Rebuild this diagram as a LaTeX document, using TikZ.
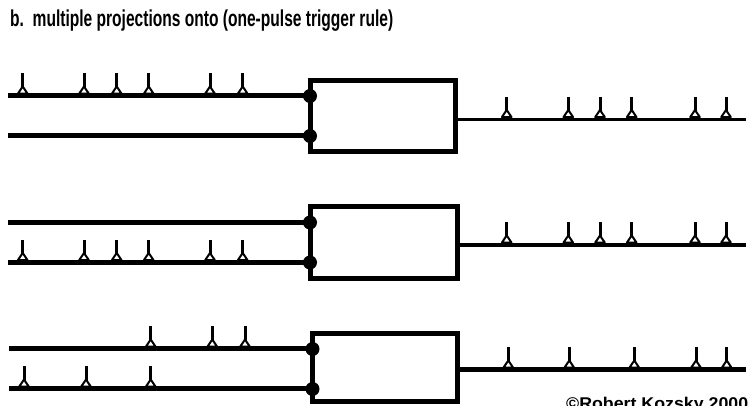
\documentclass[tikz,border=0pt]{standalone}
\usepackage{fontspec}
\setmainfont{Liberation Sans}
\begin{document}
\begin{tikzpicture}[x=1pt,y=-1pt,
  wire/.style={line width=5pt},
  outwire/.style={line width=3.5pt},
  gate/.style={draw,line width=5pt,inner sep=0pt,outer sep=0pt,anchor=north west},
  joint/.style={circle,fill,inner sep=0pt,minimum size=14pt},
  spike/.pic={
    \draw[line width=3pt] (0,-22.5) -- (0,-8);
    \draw[line width=2pt,fill=white,line join=round] (0,-9.5) -- (-4.8,-2.4) -- (4.8,-2.4) -- cycle;
  }]
\useasboundingbox (0,0) rectangle (748,406);
\clip (0,0) rectangle (748,406);

% heading
\node[anchor=base west,inner sep=0pt,font=\bfseries\fontsize{23}{27}\selectfont] (title) at (10,27)
  {\resizebox{383pt}{\height}{b.\ \ multiple projections onto (one-pulse trigger rule)}};

% gates
\node[gate,minimum width=145.5pt,minimum height=71pt] (g1) at (310,80.5) {};
\node[gate,minimum width=147pt,minimum height=72pt] (g2) at (310,206.5) {};
\node[gate,minimum width=145pt,minimum height=68pt] (g3) at (312.5,333.5) {};

% line ends
\coordinate (a1) at (8,96);    \coordinate (b1) at (8,136);   \coordinate (o1) at (746,119.5);
\coordinate (a2) at (8,222.5); \coordinate (b2) at (8,262.5); \coordinate (o2) at (746,245);
\coordinate (a3) at (9,349);   \coordinate (b3) at (9,389);   \coordinate (o3) at (746,370);

% input and output wires
\foreach \i in {1,2,3}{
  \draw[wire] (a\i) -- (g\i.west |- a\i);
  \draw[wire] (b\i) -- (g\i.west |- b\i);
  \node[joint] (ja\i) at (g\i.west |- a\i) {};
  \node[joint] (jb\i) at (g\i.west |- b\i) {};
}
\draw[outwire] (g1.east |- o1) -- (o1);
\draw[outwire] (g2.east |- o2) -- (o2);
\draw[wire] (g3.east |- o3) -- (o3);

% pulse trains
\foreach \x in {22.7,84,116.7,148.7,210,242.7}{
  \pic at (\x,96) {spike};
  \pic at (\x,262.5) {spike};
}
\foreach \x in {150.7,212.3,245}{ \pic at (\x,349) {spike}; }
\foreach \x in {24,86,150.7}{ \pic at (\x,389) {spike}; }
\foreach \x in {506.7,568.3,600,631.7,695,726}{
  \pic at (\x,119.5) {spike};
  \pic at (\x,245) {spike};
}
\foreach \x in {508.3,569.3,634.3,696,726.7}{ \pic at (\x,370) {spike}; }

% credit line, cut by the lower edge
\node[anchor=north west,inner sep=0pt,font=\bfseries\fontsize{17}{20}\selectfont] (credit) at (566,397)
  {\resizebox{182pt}{\height}{©Robert Kozsky 2000}};
\end{tikzpicture}
\end{document}
